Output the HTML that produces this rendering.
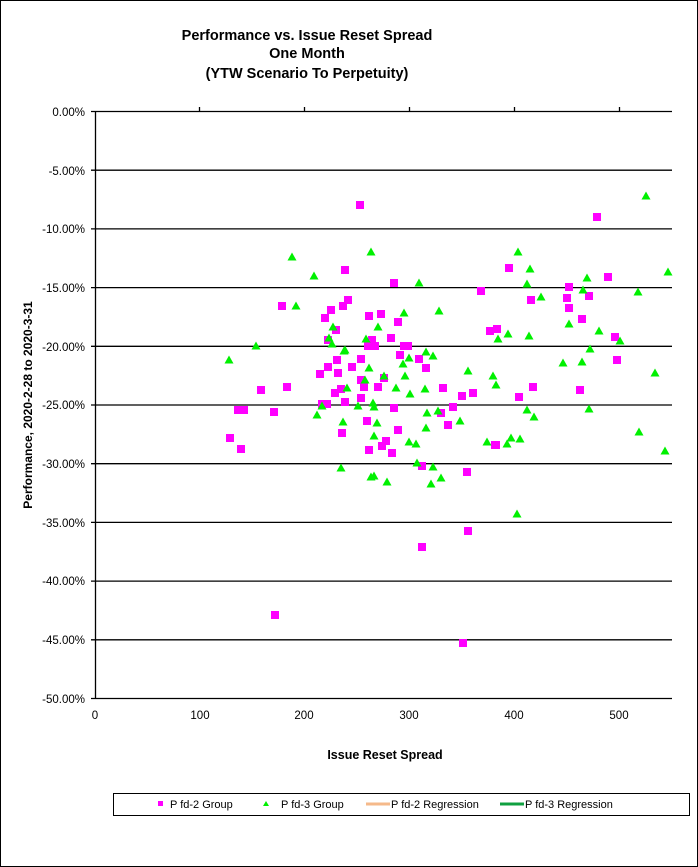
<!DOCTYPE html>
<html><head><meta charset="utf-8"><style>
html,body{margin:0;padding:0;background:#fff}
svg{display:block;font-family:"Liberation Sans",Arial,sans-serif}
</style></head><body>
<svg width="698" height="867" viewBox="0 0 698 867" xmlns="http://www.w3.org/2000/svg">
<defs>
<rect id="s" x="-4" y="-4" width="8" height="8" fill="#ff00ff"/>
<polygon id="t" points="0,-4.5 4.5,3.5 -4.5,3.5" fill="#00f000"/>
</defs>
<rect x="0.5" y="0.5" width="697" height="866" fill="#fff" stroke="#000"/>
<g font-weight="bold" font-size="14.5" text-anchor="middle" fill="#000">
<text x="307" y="40">Performance vs. Issue Reset Spread</text>
<text x="307" y="58">One Month</text>
<text x="307" y="78">(YTW Scenario To Perpetuity)</text>
</g>
<g stroke="#000" stroke-width="1.3">
<line x1="91" y1="111.5" x2="672" y2="111.5"/>
<line x1="91" y1="170.2" x2="672" y2="170.2"/>
<line x1="91" y1="228.9" x2="672" y2="228.9"/>
<line x1="91" y1="287.6" x2="672" y2="287.6"/>
<line x1="91" y1="346.3" x2="672" y2="346.3"/>
<line x1="91" y1="405" x2="672" y2="405"/>
<line x1="91" y1="463.7" x2="672" y2="463.7"/>
<line x1="91" y1="522.4" x2="672" y2="522.4"/>
<line x1="91" y1="581.1" x2="672" y2="581.1"/>
<line x1="91" y1="639.8" x2="672" y2="639.8"/>
<line x1="91" y1="698.5" x2="672" y2="698.5"/>
<line x1="95.5" y1="111" x2="95.5" y2="698"/>
<line x1="199.5" y1="107" x2="199.5" y2="111"/>
<line x1="304.5" y1="107" x2="304.5" y2="111"/>
<line x1="409.5" y1="107" x2="409.5" y2="111"/>
<line x1="514.5" y1="107" x2="514.5" y2="111"/>
<line x1="619.5" y1="107" x2="619.5" y2="111"/>
</g>
<g font-size="11.5" text-anchor="end" fill="#000">
<text x="85" y="116">0.00%</text>
<text x="85" y="175">-5.00%</text>
<text x="85" y="233">-10.00%</text>
<text x="85" y="292">-15.00%</text>
<text x="85" y="351">-20.00%</text>
<text x="85" y="409">-25.00%</text>
<text x="85" y="468">-30.00%</text>
<text x="85" y="527">-35.00%</text>
<text x="85" y="585">-40.00%</text>
<text x="85" y="644">-45.00%</text>
<text x="85" y="703">-50.00%</text>
</g>
<g font-size="11.5" text-anchor="middle" fill="#000">
<text x="95" y="719">0</text>
<text x="200" y="719">100</text>
<text x="304" y="719">200</text>
<text x="409" y="719">300</text>
<text x="514" y="719">400</text>
<text x="619" y="719">500</text>
</g>
<text x="385" y="759" font-size="12.5" font-weight="bold" text-anchor="middle">Issue  Reset  Spread</text>
<text transform="translate(32,405) rotate(-90)" font-size="12" font-weight="bold" text-anchor="middle">Performance, 2020-2-28  to  2020-3-31</text>

<g>
<use href="#s" x="360" y="205"/><use href="#s" x="345" y="270"/><use href="#s" x="394" y="283"/><use href="#s" x="481" y="291"/><use href="#s" x="282" y="306"/><use href="#s" x="348" y="300"/><use href="#s" x="343" y="306"/><use href="#s" x="331" y="310"/><use href="#s" x="325" y="318"/><use href="#s" x="369" y="316"/><use href="#s" x="381" y="314"/><use href="#s" x="398" y="322"/><use href="#s" x="336" y="330"/><use href="#s" x="328" y="340"/><use href="#s" x="372" y="340"/><use href="#s" x="375" y="346"/><use href="#s" x="368" y="346"/><use href="#s" x="391" y="338"/><use href="#s" x="404" y="346"/><use href="#s" x="408" y="346"/><use href="#s" x="400" y="355"/><use href="#s" x="361" y="359"/><use href="#s" x="419" y="359"/><use href="#s" x="337" y="360"/><use href="#s" x="490" y="331"/><use href="#s" x="497" y="329"/>
<use href="#s" x="328" y="367"/><use href="#s" x="320" y="374"/><use href="#s" x="338" y="373"/><use href="#s" x="352" y="367"/><use href="#s" x="426" y="368"/><use href="#s" x="384" y="378"/><use href="#s" x="361" y="380"/><use href="#s" x="364" y="387"/><use href="#s" x="378" y="387"/><use href="#s" x="335" y="393"/><use href="#s" x="341" y="389"/><use href="#s" x="361" y="398"/><use href="#s" x="345" y="402"/><use href="#s" x="322" y="404"/><use href="#s" x="327" y="404"/><use href="#s" x="443" y="388"/><use href="#s" x="462" y="396"/><use href="#s" x="473" y="393"/><use href="#s" x="394" y="408"/><use href="#s" x="441" y="413"/><use href="#s" x="453" y="407"/><use href="#s" x="448" y="425"/><use href="#s" x="367" y="421"/><use href="#s" x="398" y="430"/><use href="#s" x="342" y="433"/><use href="#s" x="386" y="441"/><use href="#s" x="382" y="446"/><use href="#s" x="369" y="450"/><use href="#s" x="392" y="453"/><use href="#s" x="422" y="466"/><use href="#s" x="467" y="472"/><use href="#s" x="496" y="445"/>
<use href="#s" x="597" y="217"/><use href="#s" x="509" y="268"/><use href="#s" x="608" y="277"/><use href="#s" x="569" y="287"/><use href="#s" x="531" y="300"/><use href="#s" x="567" y="298"/><use href="#s" x="589" y="296"/><use href="#s" x="569" y="308"/><use href="#s" x="582" y="319"/><use href="#s" x="615" y="337"/><use href="#s" x="617" y="360"/><use href="#s" x="533" y="387"/><use href="#s" x="519" y="397"/><use href="#s" x="580" y="390"/><use href="#s" x="495" y="445"/>
<use href="#s" x="261" y="390"/><use href="#s" x="287" y="387"/><use href="#s" x="238" y="410"/><use href="#s" x="244" y="410"/><use href="#s" x="274" y="412"/><use href="#s" x="230" y="438"/><use href="#s" x="241" y="449"/>
<use href="#s" x="468" y="531"/><use href="#s" x="422" y="547"/><use href="#s" x="275" y="615"/><use href="#s" x="463" y="643"/>
</g>
<g>
<use href="#t" x="292" y="257"/><use href="#t" x="296" y="306"/><use href="#t" x="256" y="346"/><use href="#t" x="229" y="360"/><use href="#t" x="371" y="252"/><use href="#t" x="314" y="276"/><use href="#t" x="419" y="283"/><use href="#t" x="333" y="327"/><use href="#t" x="329" y="338"/><use href="#t" x="332" y="344"/><use href="#t" x="345" y="350"/><use href="#t" x="366" y="339"/><use href="#t" x="378" y="327"/><use href="#t" x="404" y="313"/><use href="#t" x="439" y="311"/><use href="#t" x="426" y="352"/><use href="#t" x="433" y="356"/><use href="#t" x="409" y="358"/><use href="#t" x="498" y="339"/>
<use href="#t" x="344" y="351"/><use href="#t" x="369" y="368"/><use href="#t" x="403" y="364"/><use href="#t" x="405" y="376"/><use href="#t" x="365" y="380"/><use href="#t" x="384" y="376"/><use href="#t" x="347" y="388"/><use href="#t" x="396" y="388"/><use href="#t" x="425" y="389"/><use href="#t" x="410" y="394"/><use href="#t" x="468" y="371"/><use href="#t" x="493" y="376"/><use href="#t" x="496" y="385"/><use href="#t" x="322" y="406"/><use href="#t" x="317" y="415"/><use href="#t" x="358" y="406"/><use href="#t" x="373" y="403"/><use href="#t" x="374" y="407"/><use href="#t" x="427" y="413"/><use href="#t" x="438" y="411"/><use href="#t" x="460" y="421"/><use href="#t" x="343" y="422"/><use href="#t" x="377" y="423"/><use href="#t" x="426" y="428"/><use href="#t" x="374" y="436"/><use href="#t" x="409" y="442"/><use href="#t" x="416" y="444"/><use href="#t" x="487" y="442"/><use href="#t" x="341" y="468"/><use href="#t" x="417" y="463"/><use href="#t" x="433" y="467"/><use href="#t" x="371" y="477"/><use href="#t" x="374" y="476"/><use href="#t" x="387" y="482"/><use href="#t" x="431" y="484"/><use href="#t" x="441" y="478"/>
<use href="#t" x="646" y="196"/><use href="#t" x="518" y="252"/><use href="#t" x="530" y="269"/><use href="#t" x="527" y="284"/><use href="#t" x="587" y="278"/><use href="#t" x="668" y="272"/><use href="#t" x="583" y="290"/><use href="#t" x="638" y="292"/><use href="#t" x="541" y="297"/><use href="#t" x="569" y="324"/><use href="#t" x="599" y="331"/><use href="#t" x="620" y="341"/><use href="#t" x="508" y="334"/><use href="#t" x="529" y="336"/><use href="#t" x="590" y="349"/><use href="#t" x="563" y="363"/><use href="#t" x="582" y="362"/><use href="#t" x="655" y="373"/><use href="#t" x="527" y="410"/><use href="#t" x="534" y="417"/><use href="#t" x="589" y="409"/><use href="#t" x="639" y="432"/><use href="#t" x="665" y="451"/><use href="#t" x="507" y="444"/><use href="#t" x="511" y="438"/><use href="#t" x="520" y="439"/><use href="#t" x="517" y="514"/>
</g>

<rect x="113.5" y="793.5" width="576" height="22" fill="#fff" stroke="#000"/>
<rect x="158" y="801" width="5" height="5" fill="#ff00ff"/>
<polygon points="266,801 269,806 263,806" fill="#00f000"/>
<line x1="366" y1="804" x2="390" y2="804" stroke="#f5b98a" stroke-width="3"/>
<line x1="500" y1="804" x2="524" y2="804" stroke="#10a040" stroke-width="3"/>
<g font-size="11" fill="#000">
<text x="170" y="808">P fd-2 Group</text>
<text x="281" y="808">P fd-3 Group</text>
<text x="391" y="808">P fd-2 Regression</text>
<text x="525" y="808">P fd-3 Regression</text>
</g>
</svg>
</body></html>
